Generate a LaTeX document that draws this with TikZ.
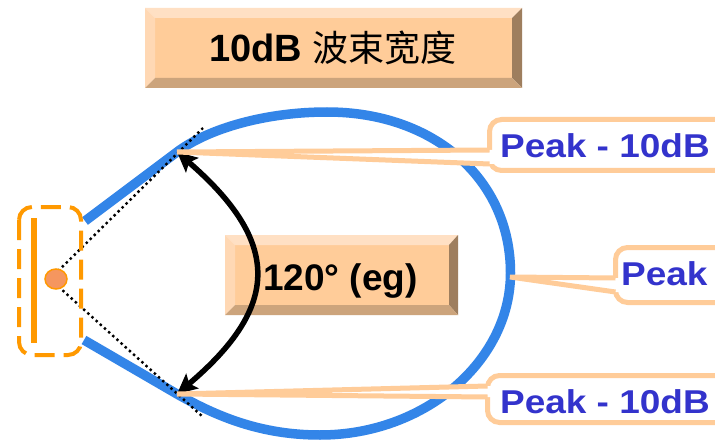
\documentclass[tikz,border=0pt]{standalone}
\usepackage{fontspec}
\setmainfont{Liberation Sans}
\newfontfamily\cjk{Noto Sans CJK SC}
\usetikzlibrary{arrows.meta}
\definecolor{beamblue}{RGB}{51,133,232}
\definecolor{orangeD}{RGB}{255,153,0}
\definecolor{salmon}{RGB}{245,150,95}
\definecolor{peach}{RGB}{255,204,153}
\definecolor{bevtop}{RGB}{255,224,196}
\definecolor{bevleft}{RGB}{255,216,180}
\definecolor{bevright}{RGB}{158,126,94}
\definecolor{bevbot}{RGB}{204,164,124}
\definecolor{labblue}{RGB}{51,51,204}
\begin{document}
\begin{tikzpicture}[x=1pt,y=-1pt,
  beam/.style={draw=beamblue,line width=9.5pt,line join=round},
  dotline/.style={black,line width=2.4pt,dash pattern=on 2.4pt off 3.2pt},
  dashbox/.style={draw=orangeD,line width=4pt,rounded corners=13pt,dash pattern=on 20pt off 9pt},
  callbox/.style={draw=peach,fill=white,line width=5pt,rounded corners=12pt},
  callline/.style={draw=peach,line width=5pt,line join=bevel},
  arcarrow/.style={black,line width=5.5pt,{Stealth[length=20pt,width=19pt,inset=4pt]}-{Stealth[length=20pt,width=19pt,inset=4pt]}},
  lab/.style={inner sep=0pt,text=labblue,font=\fontsize{33}{36}\selectfont\bfseries},
  ttl/.style={inner sep=0pt,text=black,font=\fontsize{38}{42}\selectfont\bfseries}]
\useasboundingbox (0,0) rectangle (715,441);
\fill[white] (0,0) rectangle (715,441);

% key points
\coordinate (apex) at (50,279);
\coordinate (upTip) at (177,152);
\coordinate (loTip) at (177,394);
\coordinate (pkTip) at (510,277);
\coordinate (dotUp) at (203,128);
\coordinate (dotLo) at (203,417);

% beam outline
\draw[beam] (85,221) -- (upTip) .. controls (209,128) and (267,112) .. (327,112)
  .. controls (435,112) and (510.5,180) .. (510.5,273)
  .. controls (510.5,361) and (425,435) .. (320,435)
  .. controls (260,435) and (216,416) .. (loTip) -- (84,340);

% dotted beam-edge lines
\draw[dotline] (apex) -- (dotUp);
\draw[dotline] (apex) -- (dotLo);

% antenna
\draw[dashbox] (19,207) rectangle (81,355);
\draw[orangeD,line width=6pt] (34,218) -- (34,343);
\filldraw[fill=salmon,draw=orangeD,line width=1.5pt] (56,279) ellipse [x radius=11pt, y radius=10pt];

% 120 degree bevel box
\fill[peach] (235,245) rectangle (449,305);
\fill[bevtop] (225,235) -- (458,235) -- (449,245) -- (235,245) -- cycle;
\fill[bevleft] (225,235) -- (235,245) -- (235,305) -- (225,315) -- cycle;
\fill[bevright] (458,235) -- (458,315) -- (449,305) -- (449,245) -- cycle;
\fill[bevbot] (225,315) -- (458,315) -- (449,305) -- (235,305) -- cycle;
\node[ttl,anchor=base west,font=\fontsize{37}{40}\selectfont\bfseries] (ang) at (263,290) {120° (eg)};

% arc arrow
\draw[arcarrow] (upTip) .. controls (281,242) and (281,306) .. (loTip);

% callout upper
\filldraw[callbox] (489.5,119.5) rectangle (770,170.5);
\fill[white] (upTip) -- (489.5,150) -- (494,150) -- (494,164) -- (489.5,164) -- cycle;
\draw[callline] (489.5,150) -- (upTip) -- (489.5,164);
\node[lab,anchor=base west] (p1) at (500,157.5) {\scalebox{1.12}[1]{Peak - 10dB}};

% callout middle
\filldraw[callbox] (615.5,247.5) rectangle (770,302.5);
\fill[white] (pkTip) -- (615.5,278) -- (620,278) -- (620,292) -- (615.5,292) -- cycle;
\draw[callline] (615.5,278) -- (pkTip) -- (615.5,292);
\node[lab,anchor=base west] (p2) at (621,285) {\scalebox{1.12}[1]{Peak}};

% callout lower
\filldraw[callbox] (487.5,375.5) rectangle (770,422.5);
\fill[white] (loTip) -- (487.5,386) -- (492,386) -- (492,397) -- (487.5,397) -- cycle;
\draw[callline] (487.5,386) -- (loTip) -- (487.5,397);
\node[lab,anchor=base west] (p3) at (500,413) {\scalebox{1.12}[1]{Peak - 10dB}};

% title bevel box
\fill[peach] (155,18) rectangle (512,78);
\fill[bevtop] (145,8) -- (522,8) -- (512,18) -- (155,18) -- cycle;
\fill[bevleft] (145,8) -- (155,18) -- (155,78) -- (145,88) -- cycle;
\fill[bevright] (522,8) -- (522,88) -- (512,78) -- (512,18) -- cycle;
\fill[bevbot] (145,88) -- (522,88) -- (512,78) -- (155,78) -- cycle;
\node[ttl,anchor=base] (title) at (333,62) {10dB {\cjk\mdseries\fontsize{36}{40}\selectfont 波束宽度}};
\end{tikzpicture}
\end{document}
